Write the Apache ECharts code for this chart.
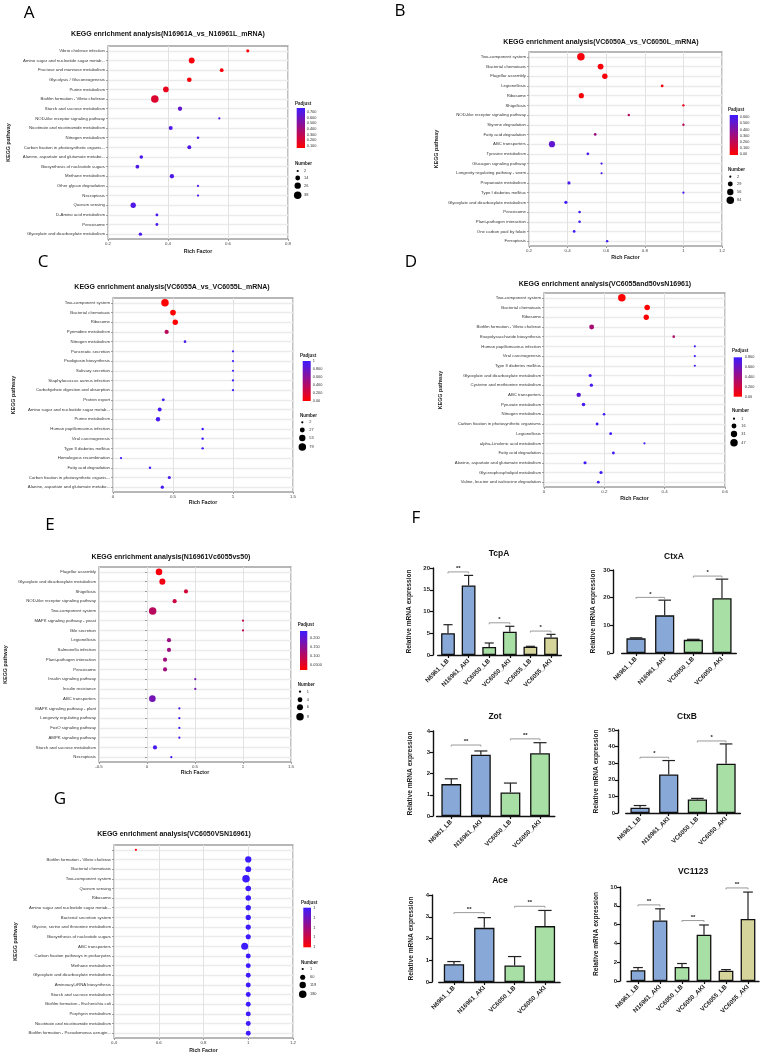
<!DOCTYPE html>
<html>
<head>
<meta charset="utf-8">
<script src="https://cdn.jsdelivr.net/npm/echarts@6/dist/echarts.min.js"></script>
<style>
html, body { margin: 0; padding: 0; background: #fff; }
#main { width: 767px; height: 1055px; }
</style>
</head>
<body>
<div id="main"></div>
<script>
// ---------- KEGG bubble panels ----------
var termsA = ['Vibrio cholerae infection', 'Amino sugar and nucleotide sugar metab...', 'Fructose and mannose metabolism', 'Glycolysis / Gluconeogenesis', 'Purine metabolism', 'Biofilm formation - Vibrio cholerae', 'Starch and sucrose metabolism', 'NOD-like receptor signaling pathway', 'Nicotinate and nicotinamide metabolism', 'Nitrogen metabolism', 'Carbon fixation in photosynthetic organis...', 'Alanine, aspartate and glutamate metabo...', 'Biosynthesis of nucleotide sugars', 'Methane metabolism', 'Other glycan degradation', 'Necroptosis', 'Quorum sensing', 'D-Amino acid metabolism', 'Peroxisome', 'Glyoxylate and dicarboxylate metabolism'];
var richA = [0.666, 0.479, 0.579, 0.471, 0.393, 0.356, 0.440, 0.571, 0.409, 0.500, 0.471, 0.311, 0.298, 0.413, 0.500, 0.500, 0.284, 0.363, 0.363, 0.308];
var numA = [5, 22, 8, 13, 20, 38, 11, 2, 9, 3, 9, 7, 8, 11, 2, 2, 18, 4, 4, 6];
var padjA = [0.08, 0.09, 0.08, 0.09, 0.14, 0.19, 0.64, 0.70, 0.70, 0.72, 0.70, 0.72, 0.71, 0.70, 0.72, 0.72, 0.70, 0.72, 0.72, 0.72];
var padjTicksA = [0.7, 0.6, 0.5, 0.4, 0.3, 0.2, 0.1];
var padjLabelsA = ['0.700', '0.600', '0.500', '0.400', '0.300', '0.200', '0.100'];
var numTicksA = [2, 14, 26, 38];

var termsB = ['Two-component system', 'Bacterial chemotaxis', 'Flagellar assembly', 'Legionellosis', 'Ribosome', 'Shigellosis', 'NOD-like receptor signaling pathway', 'Styrene degradation', 'Fatty acid degradation', 'ABC transporters', 'Tyrosine metabolism', 'Glucagon signaling pathway', 'Longevity regulating pathway - worm', 'Propanoate metabolism', 'Type I diabetes mellitus', 'Glyoxylate and dicarboxylate metabolism', 'Peroxisome', 'Plant-pathogen interaction', 'One carbon pool by folate', 'Ferroptosis'];
var richB = [0.469, 0.571, 0.593, 0.890, 0.471, 1.0, 0.717, 1.0, 0.543, 0.319, 0.505, 0.576, 0.576, 0.407, 1.0, 0.391, 0.462, 0.462, 0.434, 0.605];
var numB = [84, 45, 38, 5, 33, 3, 3, 3, 5, 52, 5, 2, 2, 8, 2, 8, 4, 4, 5, 3];
var padjB = [0, 0, 0, 0.02, 0, 0.05, 0.22, 0.22, 0.32, 0.52, 0.6, 0.6, 0.6, 0.6, 0.6, 0.62, 0.62, 0.62, 0.62, 0.62];
var padjTicksB = [0.6, 0.5, 0.4, 0.3, 0.2, 0.1, 0];
var padjLabelsB = ['0.600', '0.500', '0.400', '0.300', '0.200', '0.100', '0.00'];
var numTicksB = [2, 29, 56, 84];

var termsC = ['Two-component system', 'Bacterial chemotaxis', 'Ribosome', 'Pyrimidine metabolism', 'Nitrogen metabolism', 'Pancreatic secretion', 'Prodigiosin biosynthesis', 'Salivary secretion', 'Staphylococcus aureus infection', 'Carbohydrate digestion and absorption', 'Protein export', 'Amino sugar and nucleotide sugar metab...', 'Purine metabolism', 'Human papillomavirus infection', 'Viral carcinogenesis', 'Type II diabetes mellitus', 'Homologous recombination', 'Fatty acid degradation', 'Carbon fixation in photosynthetic organis...', 'Alanine, aspartate and glutamate metabo...'];
var richC = [0.433, 0.5, 0.519, 0.447, 0.6, 1, 1, 1, 1, 1, 0.419, 0.389, 0.375, 0.747, 0.747, 0.747, 0.067, 0.308, 0.469, 0.411];
var numC = [79, 40, 35, 18, 4, 2, 2, 2, 2, 2, 6, 15, 20, 3, 3, 3, 2, 3, 7, 9];
var padjC = [0, 0, 0, 0.35, 0.95, 1, 1, 1, 1, 1, 0.95, 0.95, 0.95, 1, 1, 1, 1, 1, 0.95, 0.95];
var padjTicksC = [1, 0.8, 0.6, 0.4, 0.2, 0];
var padjLabelsC = ['1', '0.800', '0.600', '0.400', '0.200', '0.00'];
var numTicksC = [2, 27, 53, 79];

var termsD = ['Two-component system', 'Bacterial chemotaxis', 'Ribosome', 'Biofilm formation - Vibrio cholerae', 'Exopolysaccharide biosynthesis', 'Human papillomavirus infection', 'Viral carcinogenesis', 'Type II diabetes mellitus', 'Glyoxylate and dicarboxylate metabolism', 'Cysteine and methionine metabolism', 'ABC transporters', 'Pyruvate metabolism', 'Nitrogen metabolism', 'Carbon fixation in photosynthetic organisms', 'Legionellosis', 'alpha-Linolenic acid metabolism', 'Fatty acid degradation', 'Alanine, aspartate and glutamate metabolism', 'Glycerophospholipid metabolism', 'Valine, leucine and isoleucine degradation'];
var richD = [0.258, 0.342, 0.339, 0.158, 0.43, 0.5, 0.5, 0.5, 0.153, 0.157, 0.115, 0.131, 0.199, 0.176, 0.221, 0.333, 0.23, 0.136, 0.189, 0.18];
var numD = [47, 22, 20, 16, 2, 1, 1, 1, 4, 5, 12, 6, 2, 3, 3, 1, 3, 4, 4, 3];
var padjD = [0, 0, 0, 0.36, 0.32, 0.78, 0.78, 0.78, 0.76, 0.76, 0.68, 0.76, 0.78, 0.78, 0.78, 0.78, 0.78, 0.78, 0.78, 0.78];
var padjTicksD = [0.8, 0.6, 0.4, 0.2, 0];
var padjLabelsD = ['0.800', '0.600', '0.400', '0.200', '0.00'];
var numTicksD = [1, 16, 31, 47];

var termsE = ['Flagellar assembly', 'Glyoxylate and dicarboxylate metabolism', 'Shigellosis', 'NOD-like receptor signaling pathway', 'Two-component system', 'MAPK signaling pathway - yeast', 'Bile secretion', 'Legionellosis', 'Salmonella infection', 'Plant-pathogen interaction', 'Peroxisome', 'Insulin signaling pathway', 'Insulin resistance', 'ABC transporters', 'MAPK signaling pathway - plant', 'Longevity regulating pathway', 'FoxO signaling pathway', 'AMPK signaling pathway', 'Starch and sucrose metabolism', 'Necroptosis'];
var richE = [0.125, 0.16, 0.406, 0.288, 0.059, 1.0, 1.0, 0.229, 0.229, 0.188, 0.188, 0.503, 0.503, 0.056, 0.337, 0.337, 0.337, 0.337, 0.083, 0.253];
var numE = [7, 6, 3, 3, 9, 1, 1, 3, 3, 3, 3, 1, 1, 7, 1, 1, 1, 1, 3, 1];
var padjE = [0.03, 0.035, 0.07, 0.075, 0.1, 0.09, 0.09, 0.13, 0.13, 0.125, 0.125, 0.17, 0.17, 0.175, 0.225, 0.225, 0.225, 0.225, 0.225, 0.225];
var padjTicksE = [0.2, 0.15, 0.1, 0.05];
var padjLabelsE = ['0.200', '0.150', '0.100', '0.0500'];
var numTicksE = [1, 4, 6, 9];

var termsG = ['', 'Biofilm formation - Vibrio cholerae', 'Bacterial chemotaxis', 'Two-component system', 'Quorum sensing', 'Ribosome', 'Amino sugar and nucleotide sugar metab...', 'Bacterial secretion system', 'Glycine, serine and threonine metabolism', 'Biosynthesis of nucleotide sugars', 'ABC transporters', 'Carbon fixation pathways in prokaryotes', 'Methane metabolism', 'Glyoxylate and dicarboxylate metabolism', 'Aminoacyl-tRNA biosynthesis', 'Starch and sucrose metabolism', 'Biofilm formation - Escherichia coli', 'Porphyrin metabolism', 'Nicotinate and nicotinamide metabolism', 'Biofilm formation - Pseudomonas aerugin...'];
var richG = [0.498, 1, 1, 0.99, 1, 1, 1, 1, 1, 1, 0.984, 1, 1, 1, 1, 1, 1, 1, 1, 1];
var numG = [1, 110, 90, 180, 80, 75, 70, 65, 65, 60, 150, 55, 55, 55, 55, 55, 55, 55, 55, 55];
var padjG = [0.99996, 1, 1, 1, 1, 1, 1, 1, 1, 1, 1, 1, 1, 1, 1, 1, 1, 1, 1, 1];
var padjTicksG = [1, 0.99999, 0.99998, 0.99997, 0.99996];
var padjLabelsG = ['1', '1', '1', '1', '1'];
var numTicksG = [1, 60, 119, 180];

// ---------- qPCR bar panels ----------
var groups4 = ['N6961_LB', 'N16961_AKI', 'VC6050_LB', 'VC6050_AKI'];
var groups6 = ['N6961_LB', 'N16961_AKI', 'VC6050_LB', 'VC6050_AKI', 'VC6055_LB', 'VC6055_AKI'];

var tcpaMean = [5.0, 16.0, 1.84, 5.36, 1.9, 4.05];
var tcpaUpper = [6.97, 18.3, 2.76, 6.6, 2.0, 4.75];
var tcpaSigPairs = [[0, 1], [2, 3], [4, 5]];
var tcpaSigY = [19.1, 7.4, 5.5];
var tcpaSigText = ['**', '*', '*'];

var ctxaMean = [5.3, 13.6, 4.75, 19.8];
var ctxaUpper = [5.5, 19.1, 4.95, 26.7];
var ctxaSigPairs = [[0, 1], [2, 3]];
var ctxaSigY = [20.1, 27.8];
var ctxaSigText = ['*', '*'];

var zotMean = [1.5, 2.88, 1.11, 2.95];
var zotUpper = [1.75, 3.06, 1.55, 3.45];
var zotSigPairs = [[0, 1], [2, 3]];
var zotSigY = [3.34, 3.63];
var zotSigText = ['**', '**'];

var ctxbMean = [3.2, 23.2, 8.2, 29.7];
var ctxbUpper = [4.5, 31.6, 8.8, 41.6];
var ctxbSigPairs = [[0, 1], [2, 3]];
var ctxbSigY = [33.6, 43.4];
var ctxbSigText = ['*', '*'];

var aceMean = [0.82, 2.49, 0.76, 2.57];
var aceUpper = [0.94, 2.96, 1.17, 3.29];
var aceSigPairs = [[0, 1], [2, 3]];
var aceSigY = [3.19, 3.48];
var aceSigText = ['**', '**'];

var vcMean = [1.14, 6.43, 1.5, 4.93, 1.1, 6.6];
var vcUpper = [1.43, 7.68, 1.86, 5.96, 1.21, 9.46];
var vcSigPairs = [[0, 1], [2, 3], [4, 5]];
var vcSigY = [8.1, 6.43, 9.9];
var vcSigText = ['**', '**', '**'];

// ---------- layout ----------
var FONT = '"Liberation Sans", Arial, sans-serif';
var RED = '#ff0000', BLUE = '#3d1bff';
var barColors = ['#88a8d7', '#88a8d7', '#a8dfa5', '#a8dfa5', '#d5d59b', '#d5d59b'];

var letters = [['A', 29, 13], ['B', 400, 11], ['C', 43, 262], ['D', 411, 262], ['E', 50, 525], ['F', 416, 518], ['G', 60, 799]];

var keggPanels = [
  {title: 'KEGG enrichment analysis(N16961A_vs_N16961L_mRNA)', tx: 168, ty: 34,
   terms: termsA, rich: richA, num: numA, padj: padjA, numTicks: numTicksA, padjTicks: padjTicksA, padjLabels: padjLabelsA,
   grid: [108, 46, 180, 193], x: [0.2, 0.8, 0.2], xGap: 10, yGap: 97, vm: [0.06, 0.77],
   leg: {x: 295, pt: 104, bar: [296.7, 108, 8.3, 40], lab: 306.7, nt: 163.7, cx: 297.7, cys: [171, 178, 185.7, 195.3], nl: 304}},
  {title: 'KEGG enrichment analysis(VC6050A_vs_VC6050L_mRNA)', tx: 601, ty: 42,
   terms: termsB, rich: richB, num: numB, padj: padjB, numTicks: numTicksB, padjTicks: padjTicksB, padjLabels: padjLabelsB,
   grid: [529, 52, 193, 194], x: [0.2, 1.2, 0.2], xGap: 9, yGap: 90, vm: [-0.025, 0.64],
   leg: {x: 728, pt: 109.3, bar: [729.7, 115, 8.3, 40], lab: 739.7, nt: 169.3, cx: 730.3, cys: [176.7, 184, 192, 200.3], nl: 737}},
  {title: 'KEGG enrichment analysis(VC6055A_vs_VC6055L_mRNA)', tx: 172, ty: 287,
   terms: termsC, rich: richC, num: numC, padj: padjC, numTicks: numTicksC, padjTicks: padjTicksC, padjLabels: padjLabelsC,
   grid: [113, 298, 180, 194], x: [0, 1.5, 0.5], xGap: 8, yGap: 97, vm: [0, 1],
   leg: {x: 300, pt: 355.7, bar: [302.7, 361, 8, 40], lab: 312.7, nt: 415.7, cx: 302.3, cys: [422.3, 430, 438, 447], nl: 309.3}},
  {title: 'KEGG enrichment analysis(VC6055and50vsN16961)', tx: 605, ty: 284,
   terms: termsD, rich: richD, num: numD, padj: padjD, numTicks: numTicksD, padjTicks: padjTicksD, padjLabels: padjLabelsD,
   grid: [544, 293, 181, 194], x: [0, 0.6, 0.2], xGap: 9, yGap: 101, vm: [0, 0.8],
   leg: {x: 732, pt: 351, bar: [733.7, 357.3, 8.3, 39.4], lab: 744.7, nt: 411, cx: 734, cys: [418.7, 426, 434, 442.7], nl: 741.3}},
  {title: 'KEGG enrichment analysis(N16961Vc6055vs50)', tx: 171, ty: 557,
   terms: termsE, rich: richE, num: numE, padj: padjE, numTicks: numTicksE, padjTicks: padjTicksE, padjLabels: padjLabelsE,
   grid: [99, 567, 192, 195], x: [-0.5, 1.5, 0.5], xGap: 8, yGap: 91, vm: [0.02, 0.237],
   leg: {x: 297.7, pt: 625, bar: [300, 631, 7.3, 39], lab: 310, nt: 685, cx: 300, cys: [691.7, 699.7, 707.3, 716.7], nl: 306.7}},
  {title: 'KEGG enrichment analysis(VC6050VSN16961)', tx: 174, ty: 834,
   terms: termsG, rich: richG, num: numG, padj: padjG, numTicks: numTicksG, padjTicks: padjTicksG, padjLabels: padjLabelsG,
   grid: [114, 845, 179, 193], x: [0.4, 1.2, 0.2], xGap: 10, yGap: 96, vm: [0.99996, 1],
   leg: {x: 301, pt: 902.3, bar: [303.3, 907.7, 7.7, 39.6], lab: 313.3, nt: 962.3, cx: 302.7, cys: [969, 977.3, 985, 994.3], nl: 310}}
];

var barPanels = [
  {title: 'TcpA', tx: 499, ty: 554, cats: groups6, mean: tcpaMean, upper: tcpaUpper, sigPairs: tcpaSigPairs, sigY: tcpaSigY, sigText: tcpaSigText,
   y: [20, 5], grid: [437.7, 568, 123.6, 87], yOff: 4.7, nameGap: 20.7},
  {title: 'CtxA', tx: 674, ty: 557, cats: groups4, mean: ctxaMean, upper: ctxaUpper, sigPairs: ctxaSigPairs, sigY: ctxaSigY, sigText: ctxaSigText,
   y: [30, 10], grid: [621.7, 570, 114.6, 83], yOff: 8.7, nameGap: 16.7},
  {title: 'Zot', tx: 495, ty: 717, cats: groups4, mean: zotMean, upper: zotUpper, sigPairs: zotSigPairs, sigY: zotSigY, sigText: zotSigText,
   y: [4, 1], grid: [436.5, 731, 118.3, 85], yOff: 3.5, nameGap: 19.7},
  {title: 'CtxB', tx: 687, ty: 717, cats: groups4, mean: ctxbMean, upper: ctxbUpper, sigPairs: ctxbSigPairs, sigY: ctxbSigY, sigText: ctxbSigText,
   y: [50, 10], grid: [625.7, 730, 114.7, 83], yOff: 7.7, nameGap: 18.7},
  {title: 'Ace', tx: 500, ty: 881, cats: groups4, mean: aceMean, upper: aceUpper, sigPairs: aceSigPairs, sigY: aceSigY, sigText: aceSigText,
   y: [4, 1], grid: [438.8, 895, 121.3, 87], yOff: 6.8, nameGap: 17.7},
  {title: 'VC1123', tx: 693, ty: 872, cats: groups6, mean: vcMean, upper: vcUpper, sigPairs: vcSigPairs, sigY: vcSigY, sigText: vcSigText,
   y: [10, 2], grid: [627, 887, 132, 94], yOff: 7, nameGap: 20.7}
];

// ---------- helpers ----------
function txt(s, x, y, font, align, color) {
  return {type: 'text', x: x, y: y, silent: true,
    style: {text: s, font: font, fill: color || '#111', textAlign: align || 'left', textVerticalAlign: 'middle'}};
}
function sizeFn(ticks) {
  var a = Math.sqrt(ticks[0]), b = Math.sqrt(ticks[ticks.length - 1]);
  return function (n) { return 2.2 + (Math.sqrt(n) - a) / (b - a) * 5.3; };
}
function errRender(params, api) {
  var i = api.value(0);
  var lo = api.coord([i, api.value(1)]);
  var hi = api.coord([i, api.value(2)]);
  var half = api.size([1, 0])[0] * 0.22;
  var st = {stroke: '#222', lineWidth: 1.2};
  return {type: 'group', children: [
    {type: 'line', shape: {x1: lo[0], y1: lo[1], x2: hi[0], y2: hi[1]}, style: st},
    {type: 'line', shape: {x1: hi[0] - half, y1: hi[1], x2: hi[0] + half, y2: hi[1]}, style: st}
  ]};
}
function sigRender(labels) {
  return function (params, api) {
    var a = api.coord([api.value(0), api.value(2)]);
    var b = api.coord([api.value(1), api.value(2)]);
    var st = {stroke: '#9a9a9a', lineWidth: 1};
    return {type: 'group', children: [
      {type: 'line', shape: {x1: a[0], y1: a[1], x2: b[0], y2: b[1]}, style: st},
      {type: 'line', shape: {x1: a[0], y1: a[1], x2: a[0], y2: a[1] + 1.5}, style: st},
      {type: 'line', shape: {x1: b[0], y1: b[1], x2: b[0], y2: b[1] + 1.5}, style: st},
      {type: 'text', x: (a[0] + b[0]) / 2, y: a[1] - 0.5,
       style: {text: labels[params.dataIndex], font: 'bold 6px ' + FONT, fill: '#222', textAlign: 'center', textVerticalAlign: 'bottom'}}
    ]};
  };
}

var option = {animation: false, backgroundColor: '#fff', grid: [], xAxis: [], yAxis: [], series: [], visualMap: [], graphic: []};

letters.forEach(function (l) {
  option.graphic.push(txt(l[0], l[1], l[2], '17px "Open Sans", sans-serif', 'center', '#000'));
});

keggPanels.forEach(function (p) {
  var gi = option.grid.length;
  option.grid.push({left: p.grid[0], top: p.grid[1], width: p.grid[2], height: p.grid[3],
    show: true, borderColor: '#a0a0a0', borderWidth: 1.3, backgroundColor: '#fff'});
  option.xAxis.push({gridIndex: gi, type: 'value', min: p.x[0], max: p.x[1], interval: p.x[2],
    name: 'Rich Factor', nameLocation: 'middle', nameGap: p.xGap,
    nameTextStyle: {fontFamily: FONT, fontWeight: 'bold', fontSize: 5.2, color: '#222'},
    axisLine: {show: false},
    axisTick: {show: true, length: 2, lineStyle: {color: '#888', width: 0.8}},
    axisLabel: {fontFamily: FONT, fontSize: 4.4, color: '#444', margin: 3},
    splitLine: {show: true, lineStyle: {color: '#e2e2e2', width: 1}}});
  option.yAxis.push({gridIndex: gi, type: 'category', data: p.terms, inverse: true,
    name: 'KEGG pathway', nameLocation: 'middle', nameGap: p.yGap, nameRotate: 90,
    nameTextStyle: {fontFamily: FONT, fontWeight: 'bold', fontSize: 5.3, color: '#222'},
    axisLine: {show: false},
    axisTick: {show: true, alignWithLabel: true, interval: 0, length: 2, lineStyle: {color: '#888', width: 0.8}},
    axisLabel: {fontFamily: FONT, fontSize: 4.3, color: '#333', margin: 3, interval: 0},
    splitLine: {show: true, alignWithLabel: true, interval: 0, lineStyle: {color: '#ebebeb', width: 1.3}}});
  var sf = sizeFn(p.numTicks);
  var si = option.series.length;
  option.series.push({type: 'scatter', xAxisIndex: gi, yAxisIndex: gi, z: 3,
    data: p.rich.map(function (r, i) { return [r, i, p.padj[i], p.num[i]]; }),
    encode: {x: 0, y: 1},
    symbolSize: function (v) { return sf(v[3]); },
    itemStyle: {opacity: 1}});
  option.visualMap.push({type: 'continuous', show: false, seriesIndex: si, dimension: 2,
    min: p.vm[0], max: p.vm[1], inRange: {color: [RED, BLUE]}});

  // title and legends
  var L = p.leg;
  option.graphic.push(txt(p.title, p.tx, p.ty, 'bold 7px ' + FONT, 'center', '#111'));
  option.graphic.push(txt('Padjust', L.x, L.pt, 'bold 4.5px ' + FONT, 'left', '#222'));
  option.graphic.push({type: 'rect', silent: true, shape: {x: L.bar[0], y: L.bar[1], width: L.bar[2], height: L.bar[3]},
    style: {fill: new echarts.graphic.LinearGradient(0, 0, 0, 1, [{offset: 0, color: BLUE}, {offset: 1, color: RED}])}});
  p.padjTicks.forEach(function (v, k) {
    var y = L.bar[1] + L.bar[3] * (p.vm[1] - v) / (p.vm[1] - p.vm[0]);
    option.graphic.push(txt(p.padjLabels[k], L.lab, y, '3.9px ' + FONT, 'left', '#333'));
  });
  option.graphic.push(txt('Number', L.x, L.nt, 'bold 4.5px ' + FONT, 'left', '#222'));
  p.numTicks.forEach(function (n, k) {
    option.graphic.push({type: 'circle', silent: true, shape: {cx: L.cx, cy: L.cys[k], r: sf(n) / 2}, style: {fill: '#000'}});
    option.graphic.push(txt(String(n), L.nl, L.cys[k], '3.9px ' + FONT, 'left', '#333'));
  });
});

barPanels.forEach(function (p) {
  var gi = option.grid.length;
  option.grid.push({left: p.grid[0], top: p.grid[1], width: p.grid[2], height: p.grid[3]});
  option.xAxis.push({gridIndex: gi, type: 'category', data: p.cats,
    axisLine: {show: true, lineStyle: {color: '#111', width: 1.4}},
    axisTick: {show: true, alignWithLabel: true, length: 3, lineStyle: {color: '#111', width: 1.2}},
    axisLabel: {rotate: 45, interval: 0, fontFamily: FONT, fontWeight: 'bold', fontSize: 6.3, color: '#222', margin: 5}});
  option.yAxis.push({gridIndex: gi, type: 'value', min: 0, max: p.y[0], interval: p.y[1], offset: p.yOff,
    name: 'Relative mRNA expression', nameLocation: 'middle', nameGap: p.nameGap, nameRotate: 90,
    nameTextStyle: {fontFamily: FONT, fontWeight: 'bold', fontSize: 6.6, color: '#222'},
    axisLine: {show: true, lineStyle: {color: '#111', width: 1.4}},
    axisTick: {show: true, length: 3, lineStyle: {color: '#111', width: 1.2}},
    axisLabel: {fontFamily: FONT, fontWeight: 'bold', fontSize: 6, color: '#222', margin: 3},
    splitLine: {show: false}});
  option.series.push({type: 'bar', xAxisIndex: gi, yAxisIndex: gi, barWidth: '67%',
    data: p.mean.map(function (v, i) { return {value: v, itemStyle: {color: barColors[i]}}; }),
    itemStyle: {borderColor: '#111', borderWidth: 1.3}});
  option.series.push({type: 'custom', xAxisIndex: gi, yAxisIndex: gi, z: 3,
    data: p.mean.map(function (v, i) { return [i, v, p.upper[i]]; }),
    encode: {x: 0, y: [1, 2]}, renderItem: errRender});
  option.series.push({type: 'custom', xAxisIndex: gi, yAxisIndex: gi, z: 4,
    data: p.sigPairs.map(function (pr, k) { return [pr[0], pr[1], p.sigY[k]]; }),
    encode: {x: [0, 1], y: 2}, renderItem: sigRender(p.sigText)});
  option.graphic.push(txt(p.title, p.tx, p.ty, 'bold 8.5px ' + FONT, 'center', '#111'));
});

var chart = echarts.init(document.getElementById('main'));
chart.setOption(option);
</script>
</body>
</html>
